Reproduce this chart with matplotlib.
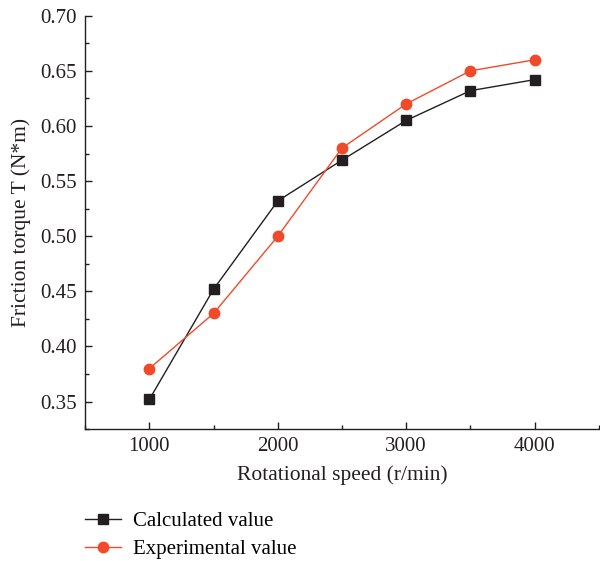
import matplotlib
matplotlib.use("Agg")
import matplotlib.pyplot as plt
from matplotlib.ticker import MultipleLocator

# data
speed = [1000, 1500, 2000, 2500, 3000, 3500, 4000]
calculated = [0.352, 0.452, 0.532, 0.569, 0.605, 0.632, 0.642]
experimental = [0.380, 0.430, 0.500, 0.580, 0.620, 0.650, 0.660]

plt.rcParams['font.family'] = ['Liberation Serif', 'DejaVu Serif']
plt.rcParams['font.size'] = 14

fig = plt.figure(figsize=(6.0, 5.61), dpi=100)
ax = fig.add_axes([0.142, 0.235, 0.856, 0.737])

ax.plot(speed, calculated, color='#231f20', lw=1.0, marker='s', ms=7.5,
        label='Calculated value')
ax.plot(speed, experimental, color='#f04a2a', lw=1.0, marker='o', ms=7.5,
        label='Experimental value')

ax.set_xlim(500, 4500)
ax.set_ylim(0.325, 0.70)
ax.xaxis.set_major_locator(MultipleLocator(1000))
ax.xaxis.set_minor_locator(MultipleLocator(500))
ax.yaxis.set_major_locator(MultipleLocator(0.05))
ax.yaxis.set_minor_locator(MultipleLocator(0.025))
ax.set_xticks([1000, 2000, 3000, 4000])
ax.yaxis.set_major_formatter(plt.FormatStrFormatter('%.2f'))

for s in ('top', 'right'):
    ax.spines[s].set_visible(False)
for s in ('left', 'bottom'):
    ax.spines[s].set_color('#231f20')
    ax.spines[s].set_linewidth(1.0)

ax.tick_params(which='major', direction='in', length=5, width=1, colors='#231f20',
               labelsize=15, pad=6)
ax.tick_params(which='minor', direction='in', length=3, width=1, colors='#231f20')

ax.set_xlabel('Rotational speed (r/min)', fontsize=15.5, color='#231f20', labelpad=6)
ax.set_ylabel('Friction torque T (N*m)', fontsize=15.5, color='#231f20', labelpad=7)

fig.legend(loc='upper left', bbox_to_anchor=(0.142, 0.088), frameon=False,
           fontsize=15, handlelength=1.7, labelspacing=0.4, handletextpad=0.6,
           borderpad=0, borderaxespad=0)

fig.savefig('out.png', dpi=100)
